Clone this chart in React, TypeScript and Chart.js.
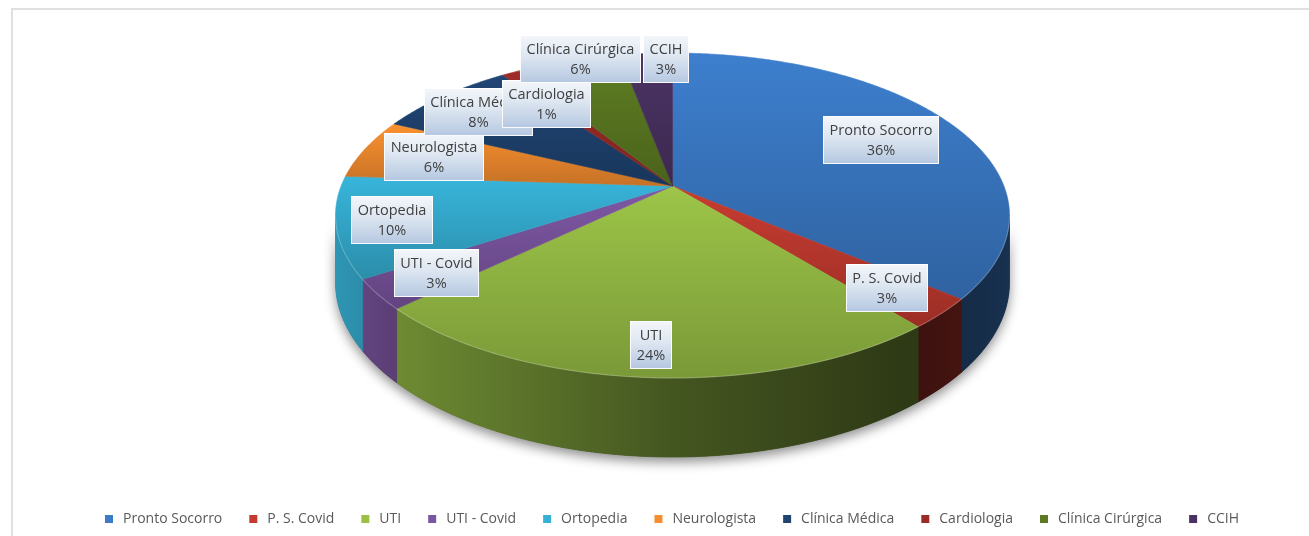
import React, { useEffect, useRef } from 'react';
import { Chart, registerables } from 'chart.js';

Chart.register(...registerables);

// ---------- data ----------
const categories = [
  'Pronto Socorro',
  'P. S. Covid',
  'UTI',
  'UTI - Covid',
  'Ortopedia',
  'Neurologista',
  'Clínica Médica',
  'Cardiologia',
  'Clínica Cirúrgica',
  'CCIH',
];
const values = [36, 3, 24, 3, 10, 6, 8, 1, 6, 3];
const sliceColors = [
  '#3B7BC8',
  '#C23A30',
  '#98BF46',
  '#7B55A0',
  '#36B0D5',
  '#F58D2F',
  '#1F4472',
  '#9A2B28',
  '#5C7A22',
  '#4A3262',
];

// ---------- layout / style ----------
const W = 1309;
const H = 536;
const PIE = { cx: 672.5, cy: 186, a: 331.4, b: 157.1, p: 0.1815, depth: 64.7 };
// radial fraction and x nudge of each data label box
const LABEL_RADIUS = [0.734, 0.818, 0.855, 0.82, 0.84, 0.77, 0.81, 0.7, 1.02, 0.95];
const LABEL_NUDGE_X = [0, 0, 0, 0, 0, 0, -5, -8, 14, 19];
const LABEL_FONT = '14.5px "Open Sans"';

function shade(hex: string, f: number): string {
  const n = parseInt(hex.slice(1), 16);
  const r = Math.max(0, Math.min(255, Math.round(((n >> 16) & 255) * f)));
  const g = Math.max(0, Math.min(255, Math.round(((n >> 8) & 255) * f)));
  const b = Math.max(0, Math.min(255, Math.round((n & 255) * f)));
  return `rgb(${r},${g},${b})`;
}

function project(theta: number, r: number, depth: number) {
  const u = r * Math.sin(theta);
  const v = r * Math.cos(theta);
  const w = 1 + PIE.p * v;
  return { x: PIE.cx + (PIE.a * u) / w, y: PIE.cy - (PIE.b * v) / w + depth / w };
}

const pie3d = {
  id: 'pie3d',
  beforeDatasetsDraw(chart: any) {
    const ctx: CanvasRenderingContext2D = chart.ctx;
    const meta = chart.getDatasetMeta(0);
    const total = values.reduce((s, v) => s + v, 0);
    const arcs = meta.data.map((el: any, i: number) => ({
      i,
      s: el.startAngle + Math.PI / 2,
      e: el.endAngle + Math.PI / 2,
    }));
    const frontS = Math.acos(-PIE.p);
    const frontE = 2 * Math.PI - frontS;

    const sidePath = (s: number, e: number) => {
      const n = Math.max(2, Math.ceil((e - s) / 0.01));
      ctx.beginPath();
      for (let k = 0; k <= n; k++) {
        const t = s + ((e - s) * k) / n;
        const q = project(t, 1, 0);
        if (k === 0) ctx.moveTo(q.x, q.y);
        else ctx.lineTo(q.x, q.y);
      }
      for (let k = n; k >= 0; k--) {
        const t = s + ((e - s) * k) / n;
        const q = project(t, 1, PIE.depth);
        ctx.lineTo(q.x, q.y);
      }
      ctx.closePath();
    };

    ctx.save();
    // drop shadow under the cylinder
    ctx.save();
    ctx.shadowColor = 'rgba(0,0,0,0.45)';
    ctx.shadowBlur = 12;
    ctx.shadowOffsetY = 5;
    sidePath(frontS, frontE);
    ctx.fillStyle = '#444';
    ctx.fill();
    ctx.restore();

    // sides
    const x0 = PIE.cx - PIE.a * 1.02;
    const x1 = PIE.cx + PIE.a * 1.02;
    arcs.forEach((a: any) => {
      const s = Math.max(a.s, frontS);
      const e = Math.min(a.e, frontE);
      if (e <= s) return;
      const col = sliceColors[a.i];
      const g = ctx.createLinearGradient(x0, 0, x1, 0);
      g.addColorStop(0, shade(col, 0.85));
      g.addColorStop(0.1, shade(col, 0.72));
      g.addColorStop(0.5, shade(col, 0.45));
      g.addColorStop(0.85, shade(col, 0.3));
      g.addColorStop(1, shade(col, 0.4));
      sidePath(s, e);
      ctx.fillStyle = g;
      ctx.fill();
      ctx.strokeStyle = g;
      ctx.lineWidth = 0.8;
      ctx.stroke();
    });

    // top faces
    arcs.forEach((a: any) => {
      const col = sliceColors[a.i];
      const c = project(0, 0, 0);
      const n = Math.max(2, Math.ceil((a.e - a.s) / 0.01));
      const pts: { x: number; y: number }[] = [];
      let minY = c.y;
      let maxY = c.y;
      for (let k = 0; k <= n; k++) {
        const q = project(a.s + ((a.e - a.s) * k) / n, 1, 0);
        pts.push(q);
        minY = Math.min(minY, q.y);
        maxY = Math.max(maxY, q.y);
      }
      ctx.beginPath();
      ctx.moveTo(c.x, c.y);
      pts.forEach((q) => ctx.lineTo(q.x, q.y));
      ctx.closePath();
      const g = ctx.createLinearGradient(0, minY, 0, maxY + 1);
      g.addColorStop(0, shade(col, 1.03));
      g.addColorStop(1, shade(col, 0.8));
      ctx.fillStyle = g;
      ctx.fill();
      ctx.strokeStyle = g;
      ctx.lineWidth = 0.6;
      ctx.stroke();
    });

    // rim highlight on front edge
    ctx.beginPath();
    {
      const n = 300;
      for (let k = 0; k <= n; k++) {
        const q = project(frontS + ((frontE - frontS) * k) / n, 1, 0);
        if (k === 0) ctx.moveTo(q.x, q.y);
        else ctx.lineTo(q.x, q.y);
      }
    }
    ctx.strokeStyle = 'rgba(255,255,255,0.22)';
    ctx.lineWidth = 1.2;
    ctx.stroke();

    // data labels
    ctx.font = LABEL_FONT;
    ctx.textAlign = 'center';
    ctx.textBaseline = 'middle';
    arcs.forEach((a: any) => {
      const mid = (a.s + a.e) / 2;
      const q = project(mid, LABEL_RADIUS[a.i], 0);
      const cx = q.x + LABEL_NUDGE_X[a.i];
      const cy = q.y;
      const pct = Math.round((values[a.i] / total) * 100) + '%';
      const tw = Math.max(ctx.measureText(categories[a.i]).width, ctx.measureText(pct).width);
      const bw = Math.round(tw + 13);
      const bh = 48;
      const left = Math.round(cx - bw / 2);
      const top = Math.round(cy - bh / 2);
      const g = ctx.createLinearGradient(0, top, 0, top + bh);
      g.addColorStop(0, '#f4f7fb');
      g.addColorStop(0.45, '#dde6f1');
      g.addColorStop(1, '#b4c7e0');
      ctx.fillStyle = g;
      ctx.fillRect(left, top, bw, bh);
      ctx.strokeStyle = 'rgba(255,255,255,0.9)';
      ctx.lineWidth = 1;
      ctx.strokeRect(left + 0.5, top + 0.5, bw - 1, bh - 1);
      ctx.fillStyle = '#404040';
      ctx.fillText(categories[a.i], left + bw / 2, top + 15);
      ctx.fillText(pct, left + bw / 2, top + 35);
    });
    ctx.restore();
    return false;
  },
};

export default function App() {
  const canvasRef = useRef<HTMLCanvasElement | null>(null);

  useEffect(() => {
    if (!canvasRef.current) return;
    const chart = new Chart(canvasRef.current, {
      type: 'pie',
      data: {
        labels: categories,
        datasets: [
          {
            data: values,
            backgroundColor: sliceColors,
            borderWidth: 0,
          },
        ],
      },
      options: {
        responsive: false,
        animation: false,
        devicePixelRatio: 1,
        layout: { padding: { left: 32, right: 0, top: 0, bottom: 0 } },
        plugins: {
          tooltip: { enabled: false },
          legend: {
            position: 'bottom',
            labels: {
              font: { family: '"Open Sans"', size: 14 },
              color: '#595959',
              usePointStyle: true,
              pointStyle: 'rect',
              boxWidth: 14,
              boxHeight: 8,
              padding: 24,
            },
          },
        },
      },
      plugins: [pie3d],
    } as any);
    return () => chart.destroy();
  }, []);

  return (
    <div style={{ position: 'fixed', left: 0, top: 0, width: W, height: H, background: '#fff', overflow: 'hidden' }}>
      <div
        style={{
          position: 'absolute',
          left: 11,
          top: 8,
          width: W,
          height: H,
          border: '2px solid #e0e0e0',
          boxSizing: 'border-box',
        }}
      />
      <canvas ref={canvasRef} width={W} height={H} style={{ position: 'absolute', left: 0, top: 0 }} />
    </div>
  );
}
